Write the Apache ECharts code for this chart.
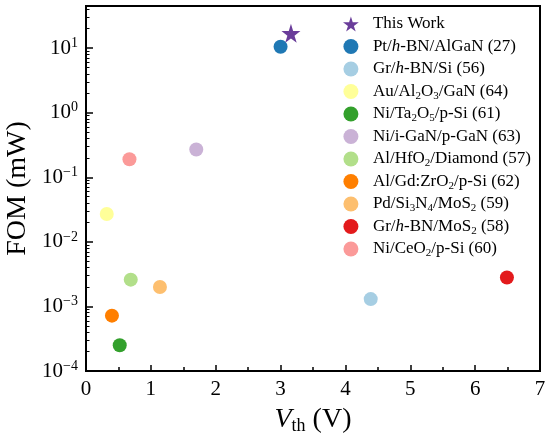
<!DOCTYPE html>
<html lang="en">
<head>
<meta charset="UTF-8">
<title>FOM vs Vth</title>
<script src="https://cdn.jsdelivr.net/npm/echarts@6/dist/echarts.min.js"></script>
<style>
    html, body { margin: 0; padding: 0; background: #fff; }
    #chart { width: 550px; height: 440px; }
</style>
</head>
<body>
<div id="chart"></div>
<script>
// data
var names = ['This Work', 'Pt/h-BN/AlGaN (27)', 'Gr/h-BN/Si (56)', 'Au/Al2O3/GaN (64)',
    'Ni/Ta2O5/p-Si (61)', 'Ni/i-GaN/p-GaN (63)', 'Al/HfO2/Diamond (57)', 'Al/Gd:ZrO2/p-Si (62)',
    'Pd/Si3N4/MoS2 (59)', 'Gr/h-BN/MoS2 (58)', 'Ni/CeO2/p-Si (60)'];
var legendText = ['This Work', 'Pt/{it|h}-BN/AlGaN (27)', 'Gr/{it|h}-BN/Si (56)', 'Au/Al{sub|2}O{sub|3}/GaN (64)',
    'Ni/Ta{sub|2}O{sub|5}/p-Si (61)', 'Ni/i-GaN/p-GaN (63)', 'Al/HfO{sub|2}/Diamond (57)', 'Al/Gd:ZrO{sub|2}/p-Si (62)',
    'Pd/Si{sub|3}N{sub|4}/MoS{sub|2} (59)', 'Gr/{it|h}-BN/MoS{sub|2} (58)', 'Ni/CeO{sub|2}/p-Si (60)'];
var vth = [3.16, 3.0, 4.39, 0.32, 0.52, 1.70, 0.69, 0.40, 1.14, 6.49, 0.67];
var fom = [17, 10.5, 1.3e-3, 0.027, 2.5e-4, 0.27, 2.6e-3, 7.2e-4, 2.0e-3, 2.8e-3, 0.19];
var xTicks = [0, 1, 2, 3, 4, 5, 6, 7];

var colors = ['#6a3d9a', '#1f78b4', '#a6cee3', '#ffff99', '#33a02c', '#cab2d6',
    '#b2df8a', '#ff7f00', '#fdbf6f', '#e31a1c', '#fb9a99'];
var star = 'path://M50,0 L61,35 L98,35 L68,57 L79,91 L50,70 L21,91 L32,57 L2,35 L39,35 Z';
var serif = '"Liberation Serif", "Times New Roman", serif';

var chart = echarts.init(document.getElementById('chart'), null, {renderer: 'canvas'});

var series = names.map(function (n, i) {
    return {
        type: 'scatter',
        name: n,
        data: [[vth[i], fom[i]]],
        symbol: i === 0 ? star : 'circle',
        symbolSize: i === 0 ? 19 : 14,
        itemStyle: {color: colors[i], opacity: 1},
        z: i === 0 ? 4 : 3
    };
});

var option = {
    animation: false,
    grid: {
        left: 86, right: 10, top: 6, bottom: 69,
        outerBoundsMode: 'none', containLabel: false,
        show: true, borderColor: '#000', borderWidth: 2
    },
    legend: {
        orient: 'vertical',
        left: 338,
        top: 9,
        itemWidth: 16,
        itemHeight: 15,
        itemGap: 2.5,
        data: names.map(function (n, i) { return {name: n, icon: i === 0 ? star : 'circle'}; }),
        formatter: function (name) { return legendText[names.indexOf(name)]; },
        textStyle: {
            fontFamily: serif, fontSize: 17, color: '#000', lineHeight: 20, padding: [0, 0, 0, 9],
            rich: {
                sub: {fontFamily: serif, fontSize: 11, lineHeight: 11, verticalAlign: 'bottom', color: '#000'},
                it: {fontFamily: serif, fontSize: 17, fontStyle: 'italic', color: '#000'}
            }
        }
    },
    xAxis: {
        type: 'value',
        min: xTicks[0],
        max: xTicks[xTicks.length - 1],
        interval: 1,
        name: '{it|V}{sub|th} (V)',
        nameLocation: 'middle',
        nameGap: 26,
        nameTextStyle: {
            fontFamily: serif, fontSize: 28, color: '#000', lineHeight: 30,
            rich: {
                it: {fontFamily: serif, fontSize: 28, fontStyle: 'italic', color: '#000', lineHeight: 30},
                sub: {fontFamily: serif, fontSize: 18, color: '#000', lineHeight: 16, verticalAlign: 'bottom'}
            }
        },
        axisLine: {lineStyle: {color: '#000', width: 2}},
        axisTick: {inside: true, length: 6, lineStyle: {color: '#000', width: 1.5}},
        minorTick: {show: true, splitNumber: 2, length: 4, lineStyle: {color: '#000', width: 1.5}},
        axisLabel: {fontFamily: serif, fontSize: 21, color: '#000', margin: 8},
        splitLine: {show: false}
    },
    yAxis: {
        type: 'log',
        logBase: 10,
        min: 1e-4,
        max: 45,
        name: 'FOM (mW)',
        nameLocation: 'middle',
        nameGap: 47,
        nameTextStyle: {fontFamily: serif, fontSize: 28, color: '#000'},
        axisLine: {lineStyle: {color: '#000', width: 2}},
        axisTick: {inside: true, length: 7, lineStyle: {color: '#000', width: 1.5}},
        minorTick: {show: true, splitNumber: 9, length: 3.5, lineStyle: {color: '#000', width: 1}},
        axisLabel: {
            fontFamily: serif, fontSize: 21, color: '#000', margin: 8, lineHeight: 24,
            formatter: function (v) {
                var l = Math.log10(v), e = Math.round(l);
                if (Math.abs(l - e) > 1e-6) return '';
                return '10{sup|' + (e < 0 ? '\u2212' + (-e) : e) + '}';
            },
            rich: {
                sup: {fontFamily: serif, fontSize: 14, lineHeight: 14, verticalAlign: 'top', color: '#000'}
            }
        },
        splitLine: {show: false}
    },
    series: series
};
chart.setOption(option);
</script>
</body>
</html>
